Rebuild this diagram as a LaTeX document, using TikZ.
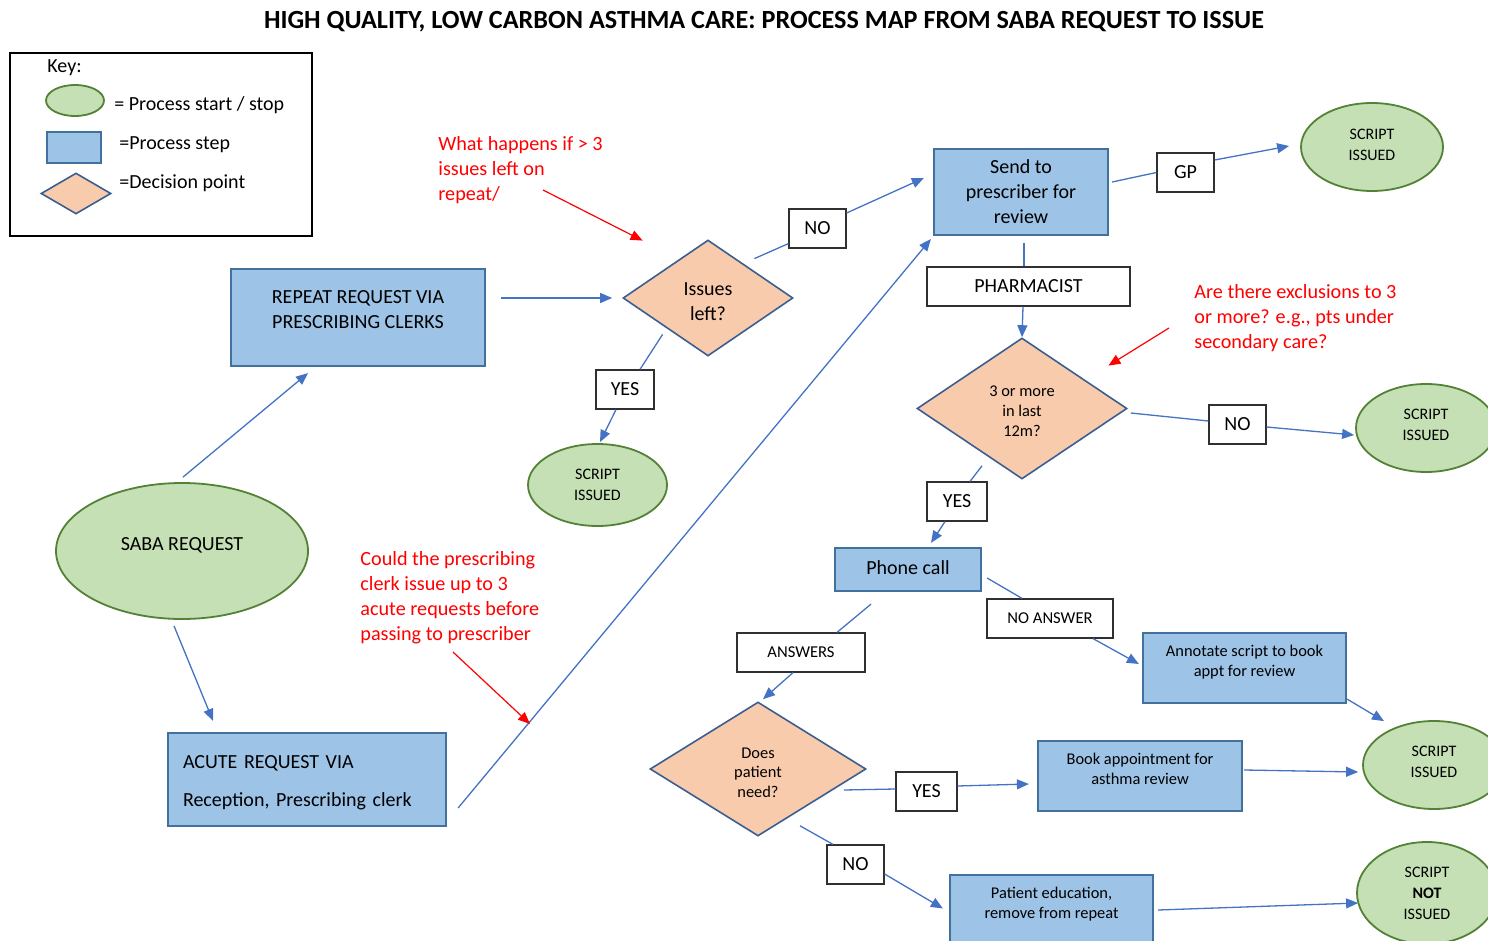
\documentclass[tikz,border=0pt]{standalone}
\usepackage{fontspec}
\setmainfont{Carlito}
\usetikzlibrary{shapes.geometric,arrows.meta,calc}
\definecolor{procF}{HTML}{9DC3E6}
\definecolor{procB}{HTML}{41719C}
\definecolor{termF}{HTML}{C5E0B4}
\definecolor{termB}{HTML}{538135}
\definecolor{decF}{HTML}{F8CBAD}
\definecolor{decB}{HTML}{3B5E91}
\definecolor{link}{HTML}{4472C4}
\definecolor{notered}{HTML}{FF0000}
\definecolor{labB}{HTML}{303030}
\newcommand{\myfs}[2]{\fontsize{#1}{#2}\selectfont}
\newcommand{\dpt}[1]{\rule[-#1]{0pt}{#1}}
\newcommand{\uph}[1]{\rule{0pt}{#1}}
\begin{document}
\begin{tikzpicture}[x=0.5pt,y=-0.5pt,
  proc/.style={rectangle, draw=procB, fill=procF, line width=1.1pt, inner sep=0pt, align=center, font=\myfs{10}{12.5}},
  term/.style={ellipse, draw=termB, fill=termF, line width=0.9pt, inner sep=0pt, align=center, font=\myfs{8}{10.5}},
  dec/.style={diamond, draw=decB, fill=decF, line width=0.8pt, inner sep=0pt, align=center, font=\myfs{8.2}{10}},
  lab/.style={rectangle, draw=labB, fill=white, line width=0.6pt, inner sep=0pt, minimum height=19.5pt, font=\myfs{10}{12}},
  conn/.style={draw=link, line width=0.65pt},
  arr/.style={conn, -{Triangle[length=6pt,width=5pt]}},
  note/.style={text=notered, align=left, inner sep=0pt, anchor=west, font=\myfs{10.1}{12.5}},
  redarr/.style={draw=notered, line width=0.6pt, -{Triangle[length=6pt,width=5pt]}},
  keytext/.style={inner sep=0pt, anchor=west, font=\myfs{10}{12}}
]
\useasboundingbox (0,0) rectangle (1488,941);

% title
\node[font=\bfseries\myfs{13.1}{15}, inner sep=0pt] (title) at (764,22) {HIGH QUALITY, LOW CARBON ASTHMA CARE: PROCESS MAP FROM SABA REQUEST TO ISSUE};

% key
\node[draw=black, line width=0.6pt, minimum width=151pt, minimum height=91.5pt, inner sep=0pt] (keybox) at (161,144.5) {};
\node[keytext] (keylbl) at (47,68) {Key:};
\node[term, minimum width=29pt, minimum height=15.5pt] (keyterm) at (75,100.5) {};
\node[keytext] (keyterml) at (114,105) {= Process start / stop};
\node[proc, minimum width=27pt, minimum height=15.5pt] (keyproc) at (74,147.5) {};
\node[keytext] (keyprocl) at (119,145) {=Process step};
\node[dec, minimum width=35pt, minimum height=20.5pt] (keydec) at (76,193.5) {};
\node[keytext] (keydecl) at (119,183) {=Decision point};

% main nodes
\node[term, minimum width=126pt, minimum height=68pt, font=\myfs{10}{12}] (saba) at (182,551) {SABA REQUEST\dpt{7pt}};
\node[proc, minimum width=127pt, minimum height=48.5pt] (repeat) at (358,317.5) {REPEAT REQUEST VIA\\PRESCRIBING CLERKS\dpt{7.5pt}};
\node[proc, minimum width=139pt, minimum height=46.5pt, text width=124pt, inner xsep=7.5pt, align=left, font=\myfs{10}{19}] (acute) at (307,779.5) {\uph{9.5pt}ACUTE REQUEST VIA\\Reception, Prescribing clerk};
\node[dec, minimum width=85pt, minimum height=58pt, font=\myfs{10}{12.5}] (issues) at (708,298) {\uph{10.5pt}Issues\\left?};
\node[lab, minimum width=28.5pt] (no1) at (817.5,228.5) {NO};
\node[lab, minimum width=29pt] (yes1) at (625,389.5) {YES};
\node[term, minimum width=69.5pt, minimum height=41pt] (s5) at (597.5,485) {SCRIPT\\ISSUED};
\node[proc, minimum width=87pt, minimum height=43pt] (send) at (1021,192) {Send to\\prescriber for\\review};
\node[lab, minimum width=28.5pt] (gp) at (1185.5,172.5) {GP};
\node[term, minimum width=71pt, minimum height=44pt] (s1) at (1372,147) {SCRIPT\\ISSUED\dpt{2pt}};
\node[lab, minimum width=101.5pt] (pharm) at (1028.5,286.5) {PHARMACIST};
\node[dec, minimum width=105pt, minimum height=70.5pt] (three) at (1022,408.5) {\uph{8.2pt}3 or more\\in last\\12m?};
\node[lab, minimum width=28.5pt] (no2) at (1237.5,424.5) {NO};
\node[term, minimum width=70pt, minimum height=44pt] (s2) at (1426,428) {SCRIPT\\ISSUED\dpt{3pt}};
\node[lab, minimum width=30pt] (yes2) at (957,501.5) {YES};
\node[proc, minimum width=73pt, minimum height=21.5pt] (phone) at (908,569.5) {Phone call\dpt{2pt}};
\node[lab, minimum width=63pt, font=\myfs{8.3}{10}] (noans) at (1050,618.5) {NO ANSWER};
\node[lab, minimum width=64pt, font=\myfs{8.3}{10}] (answers) at (801,652.5) {ANSWERS};
\node[proc, minimum width=101.5pt, minimum height=35pt, font=\myfs{8.2}{10}] (annot) at (1244.5,668) {Annotate script to book\\appt for review\dpt{7pt}};
\node[dec, minimum width=108pt, minimum height=67pt, font=\myfs{8.2}{9.75}] (does) at (758,769) {\uph{8.8pt}Does\\patient\\need?};
\node[lab, minimum width=30.5pt] (yes3) at (926.5,791.5) {YES};
\node[proc, minimum width=102pt, minimum height=35pt, font=\myfs{8.2}{10}] (book) at (1140,776) {Book appointment for\\asthma review\dpt{7pt}};
\node[term, minimum width=71pt, minimum height=44pt] (s3) at (1434,765) {SCRIPT\\ISSUED\dpt{3pt}};
\node[lab, minimum width=28.5pt] (no3) at (855.5,864.5) {NO};
\node[proc, minimum width=101.5pt, minimum height=33.5pt, font=\myfs{8.2}{10}] (edu) at (1051.5,908.5) {Patient education,\\remove from repeat\dpt{6pt}};
\node[term, minimum width=70pt, minimum height=51pt] (s4) at (1427,893) {SCRIPT\\\textbf{NOT}\\ISSUED};

% notes
\node[note] (note1) at (438,170) {What happens if > 3\\issues left on\\repeat/};
\node[note] (note2) at (1194,318) {Are there exclusions to 3\\or more? e.g., pts under\\secondary care?};
\node[note] (note3) at (360,597.5) {Could the prescribing\\clerk issue up to 3\\acute requests before\\passing to prescriber};

% connectors
\draw[arr] ($(saba.north)+(1,-5)$) -- ($(repeat.south)+(-50,6)$);
\draw[arr] ($(saba.south)+(-8,6)$) -- ($(acute.north)+(-94,-11)$);
\draw[arr] ($(repeat.east)+(15,-19.5)$) -- ($(issues.west)+(-10,0)$);
\draw[conn] ($(issues.north east)+(3.5,-10)$) -- ($(no1.south west)+(0,-5)$);
\draw[arr] ($(no1.east)+(0,-15.5)$) -- ($(send.west)+(-9,-14)$);
\draw[conn] ($(issues.south west)+(-2.5,7)$) -- ($(yes1.north)+(15,0)$);
\draw[arr] ($(yes1.south)+(-9,0)$) -- ($(s5.north)+(2.5,-1)$);
\draw[arr] ($(acute.east)+(11,28.5)$) -- ($(send.south west)+(-2,3)$);
\draw[conn] ($(send.east)+(3,-10)$) -- (gp.west);
\draw[arr] ($(gp.east)+(0,-12.5)$) -- ($(s1.west)+(-11,-1)$);
\draw[conn] ($(send.south)+(3,7)$) -- ($(pharm.north)+(-4.5,0)$);
\draw[arr] ($(pharm.south)+(-5.5,0)$) -- (three.north);
\draw[conn] ($(three.east)+(3,4.5)$) -- ($(no2.west)+(0,-3.5)$);
\draw[arr] ($(no2.east)+(0,2.5)$) -- ($(s2.west)+(-1,7)$);
\draw[conn] ($(three.south)+(-40,-14)$) -- ($(yes2.north)+(13,0)$);
\draw[arr] ($(yes2.south)+(-12,0)$) -- ($(phone.north)+(23,-4)$);
\draw[conn] ($(phone.east)+(5,8.5)$) -- ($(noans.north)+(-28,0)$);
\draw[arr] ($(noans.south)+(43,0)$) -- ($(annot.west)+(-3,-4)$);
\draw[conn] ($(phone.south)+(-37,12)$) -- ($(answers.north)+(36,0)$);
\draw[arr] ($(answers.south)+(-8,0)$) -- ($(does.north)+(5,-2)$);
\draw[conn] ($(does.east)+(-23,21)$) -- ($(yes3.west)+(0,-2.5)$);
\draw[arr] ($(yes3.east)+(0,-5.5)$) -- ($(book.west)+(-8,8)$);
\draw[conn] ($(does.south)+(42,-11)$) -- ($(no3.north)+(-22.5,0)$);
\draw[arr] ($(no3.east)+(0,9.5)$) -- ($(edu.west)+(-6,0)$);
\draw[arr] ($(annot.south east)+(0,-5)$) -- ($(s3.north)+(-50,1)$);
\draw[arr] ($(book.east)+(1,-6)$) -- ($(s3.west)+(-4,7)$);
\draw[arr] ($(edu.east)+(4,1.5)$) -- ($(s4.west)+(2,10)$);

% red annotation arrows
\coordinate (n1a) at (543,190);
\coordinate (n2a) at (1169,328);
\coordinate (n3a) at (453,652);
\coordinate (n3b) at (530,724);
\draw[redarr] (n1a) -- ($(issues.north west)+(-22.5,-28)$);
\draw[redarr] (n2a) -- ($(three.north east)+(33.5,-7.25)$);
\draw[redarr] (n3a) -- (n3b);
\end{tikzpicture}
\end{document}
